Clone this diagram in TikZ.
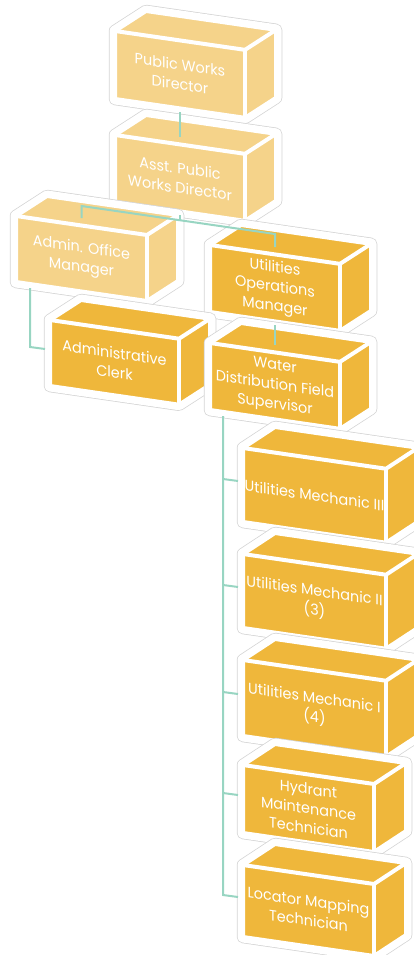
\documentclass[tikz,border=0pt]{standalone}
\usepackage{fontspec}
\setmainfont[FakeStretch=0.96]{Poppins}
\usetikzlibrary{calc}
\definecolor{lightbox}{HTML}{F5D38A}
\definecolor{darkbox}{HTML}{EFB73B}
\definecolor{conncol}{HTML}{98D5C2}
\definecolor{halogray}{HTML}{D4D4D4}
\tikzset{
  halo/.style={draw=halogray, line width=12.5pt, fill=white, line join=round},
  haloin/.style={draw=white, line width=11pt, line join=round},
  faceline/.style={draw=white, line width=4pt, line join=round},
  boxtext/.style={text=white, align=center, font=\fontsize{15}{19.5}\selectfont, inner sep=0pt},
  conn/.style={draw=conncol, line width=2pt},
}
% name, x, y (front top-left), w, h, dx, dy, fill, text
\newcommand\orgbox[9]{%
  \pgfmathsetmacro\bx{#2-2}%
  \pgfmathsetmacro\by{#3-2}%
  \pgfmathsetmacro\bw{#4+4}%
  \pgfmathsetmacro\bh{#5+4}%
  \pgfmathsetmacro\bs{0.145*\bw}%
  \coordinate (#1-ftl) at (\bx,\by);
  \coordinate (#1-ftr) at ({\bx+\bw},{\by+\bs});
  \coordinate (#1-fbl) at (\bx,{\by+\bh});
  \coordinate (#1-fbr) at ({\bx+\bw},{\by+\bh+\bs});
  \coordinate (#1-btl) at ($(#1-ftl)+(#6,#7)$);
  \coordinate (#1-btr) at ($(#1-ftr)+(#6,#7)$);
  \coordinate (#1-bbr) at ($(#1-fbr)+(#6,#7)$);
  \coordinate (#1-c) at ({\bx+\bw/2},{\by+\bh/2+\bs/2});
  \coordinate (#1-top) at ({#2+#4/2},{#3+0.0725*#4-9});
  \coordinate (#1-bot) at ({#2+#4/2},{#3+#5+0.0725*#4+6});
  \coordinate (#1-left) at ({#2-7},{#3+#5/2-4});
  \draw[halo] (#1-ftl) -- (#1-btl) -- (#1-btr) -- (#1-bbr) -- (#1-fbr) -- (#1-fbl) -- cycle;
  \draw[haloin] (#1-ftl) -- (#1-btl) -- (#1-btr) -- (#1-bbr) -- (#1-fbr) -- (#1-fbl) -- cycle;
  \fill[#8] (#1-ftl) -- (#1-btl) -- (#1-btr) -- (#1-bbr) -- (#1-fbr) -- (#1-fbl) -- cycle;
  \begin{scope}[shift={(#1-c)}, yslant=-0.145]
    \node[boxtext, transform shape] (#1) at (0,0) {#9};
  \end{scope}
  \draw[faceline] (#1-ftl) -- (#1-btl) -- (#1-btr) -- (#1-bbr) -- (#1-fbr) -- (#1-fbl) -- cycle;
  \draw[faceline] (#1-ftl) -- (#1-ftr) -- (#1-btr);
  \draw[faceline] (#1-ftr) -- (#1-fbr);
}
\begin{document}
\begin{tikzpicture}[x=1pt, y=-1pt]
  \useasboundingbox (0,0) rectangle (414,955);
  \clip (0,0) rectangle (414,955);
  \orgbox{pwd}{117}{33}{126}{64}{31}{-20}{lightbox}{Public Works\\Director}
  \orgbox{asst}{117}{137}{126}{63}{31}{-20}{lightbox}{Asst. Public\\Works Director}
  \orgbox{admin}{18}{218}{127}{62}{31}{-20}{lightbox}{Admin. Office\\Manager}
  \orgbox{ops}{212}{247}{126}{63}{31}{-20}{darkbox}{Utilities\\Operations\\Manager}
  \orgbox{clerk}{52}{322}{125}{62}{31}{-20}{darkbox}{Administrative\\Clerk}
  \orgbox{water}{212}{345}{126}{63}{31}{-20}{darkbox}{Water\\Distribution Field\\Supervisor}
  \orgbox{mech3}{245}{450}{139}{70}{32}{-21}{darkbox}{Utilities Mechanic III}
  \orgbox{mech2}{245}{556}{139}{70}{32}{-21}{darkbox}{Utilities Mechanic II\\(3)}
  \orgbox{mech1}{245}{662}{139}{72}{32}{-21}{darkbox}{Utilities Mechanic I\\(4)}
  \orgbox{hydrant}{245}{767}{127}{64}{32}{-21}{darkbox}{Hydrant\\Maintenance\\Technician}
  \orgbox{locator}{245}{867}{127}{68}{32}{-21}{darkbox}{Locator Mapping\\Technician}
  % connectors
  \coordinate (bus-l) at (81.5,206);
  \coordinate (bus-m) at (180,220.3);
  \coordinate (bus-r) at (275,234);
  \coordinate (admin-lbot) at (30,288);
  \coordinate (clerk-turn) at (30,347);
  \coordinate (water-lbot) at (223,416);
  \coordinate (j-mech3) at (223,479);
  \coordinate (j-mech2) at (223,585);
  \coordinate (j-mech1) at (223,692);
  \coordinate (j-hydrant) at (223,793);
  \coordinate (j-locator) at (223,895);
  \draw[conn] (pwd-bot) -- (asst-top);
  \draw[conn] (asst-bot) -- (bus-m);
  \draw[conn] (admin-top) -- (bus-l) -- (bus-r) -- (ops-top);
  \draw[conn] (admin-lbot) -- (clerk-turn) -- (clerk-left);
  \draw[conn] (ops-bot) -- (water-top);
  \draw[conn] (water-lbot) -- (j-locator) -- (locator-left);
  \draw[conn] (j-mech3) -- (mech3-left);
  \draw[conn] (j-mech2) -- (mech2-left);
  \draw[conn] (j-mech1) -- (mech1-left);
  \draw[conn] (j-hydrant) -- (hydrant-left);
\end{tikzpicture}
\end{document}
